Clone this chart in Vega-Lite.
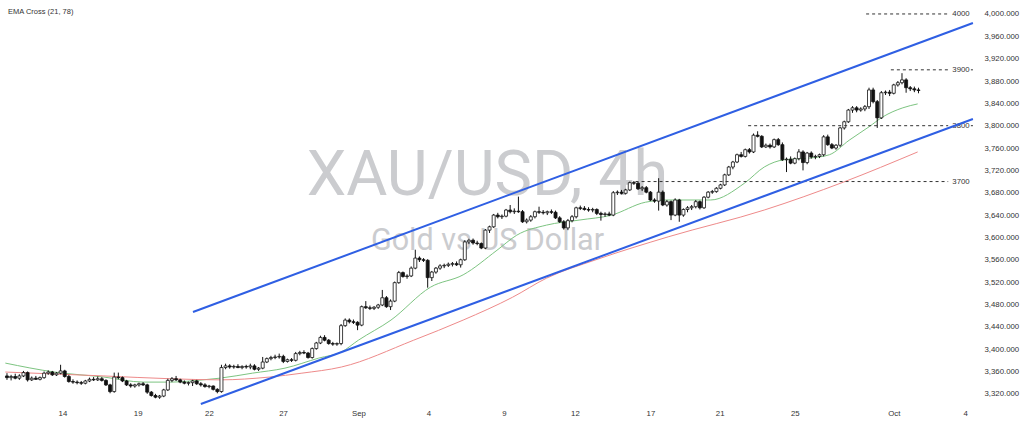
{
  "$schema": "https://vega.github.io/schema/vega-lite/v6.json",
  "width": 980,
  "height": 405,
  "autosize": {"type": "none"},
  "padding": {"left": 0, "top": 0, "right": 44, "bottom": 21},
  "background": "#ffffff",
  "config": {
    "view": {"stroke": null},
    "axis": {"grid": false, "domain": false, "ticks": false, "labelFont": "Liberation Sans", "labelFontSize": 7.8, "labelColor": "#333333", "title": null}
  },
  "datasets": {
    "candles": [
      {"i":0,"o":3352,"h":3357,"l":3345,"c":3349},{"i":1,"o":3349,"h":3354,"l":3344,"c":3351},{"i":2,"o":3351,"h":3356,"l":3346,"c":3348},{"i":3,"o":3348,"h":3355,"l":3345,"c":3352},{"i":4,"o":3352,"h":3361,"l":3350,"c":3358},{"i":5,"o":3358,"h":3360,"l":3342,"c":3345},{"i":6,"o":3345,"h":3351,"l":3343,"c":3348},{"i":7,"o":3348,"h":3352,"l":3345,"c":3346},{"i":8,"o":3346,"h":3351,"l":3344,"c":3349},{"i":9,"o":3349,"h":3360,"l":3347,"c":3357},
      {"i":10,"o":3357,"h":3362,"l":3354,"c":3359},{"i":11,"o":3359,"h":3361,"l":3352,"c":3354},{"i":12,"o":3354,"h":3359,"l":3352,"c":3357},{"i":13,"o":3357,"h":3372,"l":3355,"c":3361},{"i":14,"o":3361,"h":3363,"l":3349,"c":3351},{"i":15,"o":3351,"h":3354,"l":3340,"c":3342},{"i":16,"o":3342,"h":3346,"l":3338,"c":3341},{"i":17,"o":3341,"h":3344,"l":3337,"c":3340},{"i":18,"o":3340,"h":3343,"l":3336,"c":3339},{"i":19,"o":3339,"h":3345,"l":3337,"c":3343},
      {"i":20,"o":3343,"h":3349,"l":3341,"c":3346},{"i":21,"o":3346,"h":3350,"l":3343,"c":3345},{"i":22,"o":3345,"h":3351,"l":3343,"c":3347},{"i":23,"o":3347,"h":3350,"l":3342,"c":3344},{"i":24,"o":3344,"h":3346,"l":3334,"c":3336},{"i":25,"o":3336,"h":3338,"l":3321,"c":3324},{"i":26,"o":3324,"h":3358,"l":3322,"c":3350},{"i":27,"o":3350,"h":3358,"l":3346,"c":3349},{"i":28,"o":3349,"h":3351,"l":3341,"c":3343},{"i":29,"o":3343,"h":3345,"l":3334,"c":3336},
      {"i":30,"o":3336,"h":3339,"l":3331,"c":3334},{"i":31,"o":3334,"h":3338,"l":3331,"c":3336},{"i":32,"o":3336,"h":3340,"l":3333,"c":3338},{"i":33,"o":3338,"h":3341,"l":3334,"c":3336},{"i":34,"o":3336,"h":3338,"l":3320,"c":3323},{"i":35,"o":3323,"h":3325,"l":3315,"c":3317},{"i":36,"o":3317,"h":3320,"l":3312,"c":3314},{"i":37,"o":3314,"h":3318,"l":3311,"c":3316},{"i":38,"o":3316,"h":3329,"l":3314,"c":3327},{"i":39,"o":3327,"h":3347,"l":3325,"c":3344},
      {"i":40,"o":3344,"h":3350,"l":3341,"c":3347},{"i":41,"o":3347,"h":3352,"l":3343,"c":3345},{"i":42,"o":3345,"h":3347,"l":3339,"c":3341},{"i":43,"o":3341,"h":3344,"l":3337,"c":3339},{"i":44,"o":3339,"h":3342,"l":3335,"c":3340},{"i":45,"o":3340,"h":3345,"l":3334,"c":3343},{"i":46,"o":3343,"h":3345,"l":3336,"c":3338},{"i":47,"o":3338,"h":3341,"l":3333,"c":3336},{"i":48,"o":3336,"h":3339,"l":3331,"c":3333},{"i":49,"o":3333,"h":3336,"l":3330,"c":3334},
      {"i":50,"o":3334,"h":3335,"l":3326,"c":3328},{"i":51,"o":3328,"h":3330,"l":3321,"c":3324},{"i":52,"o":3324,"h":3372,"l":3322,"c":3367},{"i":53,"o":3367,"h":3374,"l":3364,"c":3370},{"i":54,"o":3370,"h":3373,"l":3365,"c":3368},{"i":55,"o":3368,"h":3372,"l":3365,"c":3369},{"i":56,"o":3369,"h":3373,"l":3366,"c":3367},{"i":57,"o":3367,"h":3371,"l":3364,"c":3369},{"i":58,"o":3369,"h":3372,"l":3365,"c":3368},{"i":59,"o":3368,"h":3374,"l":3364,"c":3370},
      {"i":60,"o":3370,"h":3373,"l":3362,"c":3364},{"i":61,"o":3364,"h":3368,"l":3361,"c":3366},{"i":62,"o":3366,"h":3386,"l":3364,"c":3377},{"i":63,"o":3377,"h":3385,"l":3375,"c":3383},{"i":64,"o":3383,"h":3388,"l":3380,"c":3385},{"i":65,"o":3385,"h":3390,"l":3382,"c":3386},{"i":66,"o":3386,"h":3392,"l":3383,"c":3387},{"i":67,"o":3387,"h":3390,"l":3375,"c":3378},{"i":68,"o":3378,"h":3383,"l":3376,"c":3381},{"i":69,"o":3381,"h":3384,"l":3377,"c":3380},
      {"i":70,"o":3380,"h":3395,"l":3378,"c":3392},{"i":71,"o":3392,"h":3397,"l":3389,"c":3394},{"i":72,"o":3394,"h":3398,"l":3391,"c":3393},{"i":73,"o":3393,"h":3395,"l":3383,"c":3385},{"i":74,"o":3385,"h":3403,"l":3383,"c":3401},{"i":75,"o":3401,"h":3413,"l":3399,"c":3411},{"i":76,"o":3411,"h":3424,"l":3409,"c":3421},{"i":77,"o":3421,"h":3425,"l":3414,"c":3416},{"i":78,"o":3416,"h":3418,"l":3408,"c":3410},{"i":79,"o":3410,"h":3413,"l":3406,"c":3409},
      {"i":80,"o":3409,"h":3412,"l":3406,"c":3410},{"i":81,"o":3410,"h":3445,"l":3407,"c":3442},{"i":82,"o":3442,"h":3455,"l":3440,"c":3452},{"i":83,"o":3452,"h":3455,"l":3446,"c":3449},{"i":84,"o":3449,"h":3453,"l":3445,"c":3448},{"i":85,"o":3448,"h":3450,"l":3434,"c":3443},{"i":86,"o":3443,"h":3478,"l":3441,"c":3476},{"i":87,"o":3476,"h":3486,"l":3472,"c":3474},{"i":88,"o":3474,"h":3478,"l":3470,"c":3473},{"i":89,"o":3473,"h":3477,"l":3470,"c":3475},
      {"i":90,"o":3475,"h":3481,"l":3472,"c":3479},{"i":91,"o":3479,"h":3506,"l":3477,"c":3492},{"i":92,"o":3492,"h":3495,"l":3474,"c":3476},{"i":93,"o":3476,"h":3489,"l":3470,"c":3486},{"i":94,"o":3486,"h":3521,"l":3484,"c":3519},{"i":95,"o":3519,"h":3540,"l":3517,"c":3537},{"i":96,"o":3537,"h":3539,"l":3528,"c":3530},{"i":97,"o":3530,"h":3534,"l":3526,"c":3531},{"i":98,"o":3531,"h":3548,"l":3529,"c":3545},{"i":99,"o":3545,"h":3578,"l":3543,"c":3563},
      {"i":100,"o":3563,"h":3566,"l":3556,"c":3560},{"i":101,"o":3560,"h":3563,"l":3556,"c":3559},{"i":102,"o":3559,"h":3561,"l":3510,"c":3528},{"i":103,"o":3528,"h":3540,"l":3522,"c":3538},{"i":104,"o":3538,"h":3547,"l":3535,"c":3545},{"i":105,"o":3545,"h":3552,"l":3542,"c":3549},{"i":106,"o":3549,"h":3553,"l":3545,"c":3550},{"i":107,"o":3550,"h":3555,"l":3547,"c":3552},{"i":108,"o":3552,"h":3556,"l":3548,"c":3553},{"i":109,"o":3553,"h":3557,"l":3549,"c":3551},
      {"i":110,"o":3551,"h":3562,"l":3546,"c":3560},{"i":111,"o":3560,"h":3595,"l":3558,"c":3592},{"i":112,"o":3592,"h":3598,"l":3588,"c":3595},{"i":113,"o":3595,"h":3598,"l":3587,"c":3590},{"i":114,"o":3590,"h":3594,"l":3586,"c":3589},{"i":115,"o":3589,"h":3591,"l":3579,"c":3581},{"i":116,"o":3581,"h":3615,"l":3579,"c":3613},{"i":117,"o":3613,"h":3621,"l":3608,"c":3619},{"i":118,"o":3619,"h":3642,"l":3617,"c":3640},{"i":119,"o":3640,"h":3644,"l":3634,"c":3637},
      {"i":120,"o":3637,"h":3641,"l":3633,"c":3638},{"i":121,"o":3638,"h":3651,"l":3636,"c":3649},{"i":122,"o":3649,"h":3658,"l":3643,"c":3646},{"i":123,"o":3646,"h":3652,"l":3642,"c":3647},{"i":124,"o":3647,"h":3673,"l":3644,"c":3646},{"i":125,"o":3646,"h":3649,"l":3626,"c":3628},{"i":126,"o":3628,"h":3634,"l":3625,"c":3631},{"i":127,"o":3631,"h":3640,"l":3628,"c":3637},{"i":128,"o":3637,"h":3648,"l":3634,"c":3646},{"i":129,"o":3646,"h":3655,"l":3642,"c":3645},
      {"i":130,"o":3645,"h":3649,"l":3641,"c":3644},{"i":131,"o":3644,"h":3648,"l":3640,"c":3646},{"i":132,"o":3646,"h":3650,"l":3642,"c":3645},{"i":133,"o":3645,"h":3648,"l":3633,"c":3635},{"i":134,"o":3635,"h":3638,"l":3626,"c":3628},{"i":135,"o":3628,"h":3631,"l":3614,"c":3617},{"i":136,"o":3617,"h":3633,"l":3613,"c":3630},{"i":137,"o":3630,"h":3640,"l":3627,"c":3637},{"i":138,"o":3637,"h":3655,"l":3634,"c":3653},{"i":139,"o":3653,"h":3657,"l":3649,"c":3652},
      {"i":140,"o":3652,"h":3656,"l":3648,"c":3650},{"i":141,"o":3650,"h":3654,"l":3646,"c":3649},{"i":142,"o":3649,"h":3653,"l":3645,"c":3650},{"i":143,"o":3650,"h":3652,"l":3640,"c":3643},{"i":144,"o":3643,"h":3646,"l":3630,"c":3641},{"i":145,"o":3641,"h":3645,"l":3637,"c":3642},{"i":146,"o":3642,"h":3646,"l":3638,"c":3640},{"i":147,"o":3640,"h":3683,"l":3638,"c":3680},{"i":148,"o":3680,"h":3684,"l":3676,"c":3681},{"i":149,"o":3681,"h":3685,"l":3677,"c":3679},
      {"i":150,"o":3679,"h":3687,"l":3677,"c":3685},{"i":151,"o":3685,"h":3700,"l":3683,"c":3698},{"i":152,"o":3698,"h":3701,"l":3694,"c":3697},{"i":153,"o":3697,"h":3699,"l":3685,"c":3687},{"i":154,"o":3687,"h":3692,"l":3683,"c":3689},{"i":155,"o":3689,"h":3692,"l":3679,"c":3681},{"i":156,"o":3681,"h":3683,"l":3665,"c":3667},{"i":157,"o":3667,"h":3670,"l":3662,"c":3665},{"i":158,"o":3665,"h":3706,"l":3648,"c":3681},{"i":159,"o":3681,"h":3684,"l":3656,"c":3658},
      {"i":160,"o":3658,"h":3667,"l":3655,"c":3664},{"i":161,"o":3664,"h":3666,"l":3631,"c":3640},{"i":162,"o":3640,"h":3670,"l":3638,"c":3667},{"i":163,"o":3667,"h":3669,"l":3628,"c":3640},{"i":164,"o":3640,"h":3652,"l":3637,"c":3650},{"i":165,"o":3650,"h":3656,"l":3645,"c":3653},{"i":166,"o":3653,"h":3658,"l":3649,"c":3655},{"i":167,"o":3655,"h":3667,"l":3652,"c":3664},{"i":168,"o":3664,"h":3666,"l":3650,"c":3653},{"i":169,"o":3653,"h":3674,"l":3651,"c":3672},
      {"i":170,"o":3672,"h":3683,"l":3670,"c":3681},{"i":171,"o":3681,"h":3685,"l":3678,"c":3682},{"i":172,"o":3682,"h":3690,"l":3680,"c":3688},{"i":173,"o":3688,"h":3696,"l":3686,"c":3694},{"i":174,"o":3694,"h":3714,"l":3692,"c":3712},{"i":175,"o":3712,"h":3728,"l":3710,"c":3726},{"i":176,"o":3726,"h":3737,"l":3722,"c":3735},{"i":177,"o":3735,"h":3750,"l":3733,"c":3748},{"i":178,"o":3748,"h":3753,"l":3743,"c":3745},{"i":179,"o":3745,"h":3759,"l":3743,"c":3757},
      {"i":180,"o":3757,"h":3760,"l":3750,"c":3753},{"i":181,"o":3753,"h":3786,"l":3751,"c":3783},{"i":182,"o":3783,"h":3790,"l":3779,"c":3781},{"i":183,"o":3781,"h":3783,"l":3760,"c":3762},{"i":184,"o":3762,"h":3768,"l":3760,"c":3765},{"i":185,"o":3765,"h":3768,"l":3759,"c":3762},{"i":186,"o":3762,"h":3777,"l":3760,"c":3775},{"i":187,"o":3775,"h":3778,"l":3764,"c":3766},{"i":188,"o":3766,"h":3770,"l":3737,"c":3739},{"i":189,"o":3739,"h":3743,"l":3717,"c":3740},
      {"i":190,"o":3740,"h":3745,"l":3731,"c":3733},{"i":191,"o":3733,"h":3743,"l":3731,"c":3741},{"i":192,"o":3741,"h":3758,"l":3738,"c":3753},{"i":193,"o":3753,"h":3756,"l":3720,"c":3734},{"i":194,"o":3734,"h":3753,"l":3731,"c":3751},{"i":195,"o":3751,"h":3754,"l":3741,"c":3744},{"i":196,"o":3744,"h":3748,"l":3740,"c":3745},{"i":197,"o":3745,"h":3750,"l":3742,"c":3748},{"i":198,"o":3748,"h":3783,"l":3745,"c":3780},{"i":199,"o":3780,"h":3784,"l":3764,"c":3766},
      {"i":200,"o":3766,"h":3769,"l":3758,"c":3760},{"i":201,"o":3760,"h":3767,"l":3757,"c":3765},{"i":202,"o":3765,"h":3798,"l":3762,"c":3796},{"i":203,"o":3796,"h":3809,"l":3793,"c":3807},{"i":204,"o":3807,"h":3830,"l":3805,"c":3828},{"i":205,"o":3828,"h":3835,"l":3823,"c":3832},{"i":206,"o":3832,"h":3835,"l":3824,"c":3828},{"i":207,"o":3828,"h":3833,"l":3825,"c":3830},{"i":208,"o":3830,"h":3837,"l":3826,"c":3834},{"i":209,"o":3834,"h":3868,"l":3830,"c":3864},
      {"i":210,"o":3864,"h":3868,"l":3840,"c":3843},{"i":211,"o":3843,"h":3846,"l":3796,"c":3814},{"i":212,"o":3814,"h":3862,"l":3812,"c":3859},{"i":213,"o":3859,"h":3863,"l":3855,"c":3860},{"i":214,"o":3860,"h":3864,"l":3853,"c":3858},{"i":215,"o":3858,"h":3875,"l":3856,"c":3873},{"i":216,"o":3873,"h":3880,"l":3870,"c":3877},{"i":217,"o":3877,"h":3894,"l":3874,"c":3882},{"i":218,"o":3882,"h":3885,"l":3859,"c":3868},{"i":219,"o":3868,"h":3871,"l":3862,"c":3866},
      {"i":220,"o":3866,"h":3870,"l":3860,"c":3864},{"i":221,"o":3864,"h":3868,"l":3858,"c":3863}
    ],
    "ema": [
      {"s":"EMA 21","i":-0.4,"p":3375},{"s":"EMA 21","i":11.5,"p":3359},{"s":"EMA 21","i":23.5,"p":3350},{"s":"EMA 21","i":33.1,"p":3341},{"s":"EMA 21","i":39.6,"p":3341},{"s":"EMA 21","i":47.5,"p":3345},{"s":"EMA 21","i":51.6,"p":3348},{"s":"EMA 21","i":59.5,"p":3357},{"s":"EMA 21","i":67.4,"p":3366},{"s":"EMA 21","i":75.6,"p":3384},{"s":"EMA 21","i":81.1,"p":3395},{"s":"EMA 21","i":85.2,"p":3416},{"s":"EMA 21","i":93.1,"p":3452},{"s":"EMA 21","i":102.7,"p":3511},{"s":"EMA 21","i":110.6,"p":3533},{"s":"EMA 21","i":118.8,"p":3577},{"s":"EMA 21","i":123.6,"p":3604},{"s":"EMA 21","i":130.8,"p":3622},{"s":"EMA 21","i":138.7,"p":3631},{"s":"EMA 21","i":146.6,"p":3640},{"s":"EMA 21","i":154.8,"p":3663},{"s":"EMA 21","i":160.3,"p":3667},{"s":"EMA 21","i":170.6,"p":3667},{"s":"EMA 21","i":178.8,"p":3697},{"s":"EMA 21","i":183.6,"p":3726},{"s":"EMA 21","i":188.4,"p":3739},{"s":"EMA 21","i":194.6,"p":3742},{"s":"EMA 21","i":199.4,"p":3748},{"s":"EMA 21","i":204.2,"p":3774},{"s":"EMA 21","i":209.0,"p":3798},{"s":"EMA 21","i":212.4,"p":3816},{"s":"EMA 21","i":217.2,"p":3832},{"s":"EMA 21","i":220.8,"p":3839},
      {"s":"EMA 78","i":-0.4,"p":3359},{"s":"EMA 78","i":23.5,"p":3352},{"s":"EMA 78","i":39.6,"p":3347},{"s":"EMA 78","i":51.6,"p":3345},{"s":"EMA 78","i":63.6,"p":3350},{"s":"EMA 78","i":71.5,"p":3357},{"s":"EMA 78","i":81.1,"p":3368},{"s":"EMA 78","i":98.6,"p":3416},{"s":"EMA 78","i":110.6,"p":3452},{"s":"EMA 78","i":122.6,"p":3493},{"s":"EMA 78","i":130.8,"p":3527},{"s":"EMA 78","i":142.8,"p":3560},{"s":"EMA 78","i":160.3,"p":3601},{"s":"EMA 78","i":183.6,"p":3649},{"s":"EMA 78","i":202.8,"p":3699},{"s":"EMA 78","i":220.8,"p":3753}
    ],
    "channel": [
      {"line":"upper","i":45.1,"p":3466.5},{"line":"upper","i":234.2,"p":3983.8},
      {"line":"lower","i":47.0,"p":3301.8},{"line":"lower","i":234.2,"p":3812.0}
    ],
    "levels": [
      {"p":4000,"a":208.3,"b":228.2},{"p":3900,"a":214.3,"b":228.2},{"p":3800,"a":179.7,"b":228.2},{"p":3700,"a":152.4,"b":228.2},
      {"p":3900,"a":233.7,"b":234.2},{"p":3800,"a":233.7,"b":234.2}
    ],
    "levelLabels": [
      {"t":"4000","i":229.2,"p":4000},{"t":"3900","i":229.2,"p":3900},{"t":"3800","i":229.2,"p":3800},{"t":"3700","i":229.2,"p":3700}
    ],
    "wm1": [{"t":"XAU/USD, 4h","i":116.5,"p":3675.9}],
    "wm2": [{"t":"Gold vs US Dollar","i":116.5,"p":3577.5}],
    "hdr": [{"t":"EMA Cross (21, 78)","i":0.24,"p":4003.5}]
  },
  "encoding": {
    "x": {
      "field": "i", "type": "quantitative",
      "scale": {"domain": [-0.48, 234.7], "nice": false, "zero": false},
      "axis": {
        "values": [13.44, 31.68, 48.96, 66.95, 85.2, 102.2, 120.5, 137.7, 156.0, 172.8, 191.0, 215.0, 232.3],
        "labelExpr": "datum.value < 20 ? '14' : datum.value < 40 ? '19' : datum.value < 58 ? '22' : datum.value < 76 ? '27' : datum.value < 94 ? 'Sep' : datum.value < 111 ? '4' : datum.value < 129 ? '9' : datum.value < 147 ? '12' : datum.value < 164 ? '17' : datum.value < 182 ? '21' : datum.value < 203 ? '25' : datum.value < 224 ? 'Oct' : '4'",
        "labelPadding": 4, "labelFlush": false, "labelOverlap": false, "title": null
      }
    }
  },
  "layer": [
    {
      "data": {"name": "wm1"},
      "mark": {"type": "text", "font": "Roboto", "fontSize": 63, "color": "#cbcccf", "align": "center", "baseline": "alphabetic"},
      "encoding": {
        "y": {"field": "p", "type": "quantitative", "scale": {"domain": [3300, 4025], "nice": false, "zero": false}, "axis": {"orient": "right", "values": [3320,3360,3400,3440,3480,3520,3560,3600,3640,3680,3720,3760,3800,3840,3880,3920,3960,4000], "format": ",.3f", "labelPadding": 4, "title": null}},
        "text": {"field": "t"}
      }
    },
    {
      "data": {"name": "wm2"},
      "mark": {"type": "text", "font": "Roboto", "fontSize": 30.5, "color": "#cbcccf", "align": "center", "baseline": "alphabetic"},
      "encoding": {
        "y": {"field": "p", "type": "quantitative", "scale": {"domain": [3300, 4025], "nice": false, "zero": false}, "axis": {"orient": "right", "values": [3320,3360,3400,3440,3480,3520,3560,3600,3640,3680,3720,3760,3800,3840,3880,3920,3960,4000], "format": ",.3f", "labelPadding": 4, "title": null}},
        "text": {"field": "t"}
      }
    },
    {
      "data": {"name": "ema"},
      "mark": {"type": "line", "strokeWidth": 1, "clip": true, "interpolate": "monotone"},
      "encoding": {
        "y": {"field": "p", "type": "quantitative", "scale": {"domain": [3300, 4025], "nice": false, "zero": false}, "axis": {"orient": "right", "values": [3320,3360,3400,3440,3480,3520,3560,3600,3640,3680,3720,3760,3800,3840,3880,3920,3960,4000], "format": ",.3f", "labelPadding": 4, "title": null}},
        "color": {"field": "s", "type": "nominal", "scale": {"domain": ["EMA 21", "EMA 78"], "range": ["#7dc481", "#ee8a8a"]}, "legend": null}
      }
    },
    {
      "data": {"name": "candles"},
      "mark": {"type": "rule", "color": "#111111", "strokeWidth": 1},
      "encoding": {
        "y": {"field": "l", "type": "quantitative", "scale": {"domain": [3300, 4025], "nice": false, "zero": false}, "axis": {"orient": "right", "values": [3320,3360,3400,3440,3480,3520,3560,3600,3640,3680,3720,3760,3800,3840,3880,3920,3960,4000], "format": ",.3f", "labelPadding": 4, "title": null}},
        "y2": {"field": "h"}
      }
    },
    {
      "data": {"name": "candles"},
      "mark": {"type": "bar", "width": 3, "stroke": "#111111", "strokeWidth": 0.8},
      "encoding": {
        "y": {"field": "o", "type": "quantitative", "scale": {"domain": [3300, 4025], "nice": false, "zero": false}, "axis": {"orient": "right", "values": [3320,3360,3400,3440,3480,3520,3560,3600,3640,3680,3720,3760,3800,3840,3880,3920,3960,4000], "format": ",.3f", "labelPadding": 4, "title": null}},
        "y2": {"field": "c"},
        "fill": {"condition": {"test": "datum.c >= datum.o", "value": "#ffffff"}, "value": "#111111"}
      }
    },
    {
      "data": {"name": "levels"},
      "mark": {"type": "rule", "color": "#333333", "strokeWidth": 1, "strokeDash": [3, 3]},
      "encoding": {
        "x": {"field": "a", "type": "quantitative"},
        "x2": {"field": "b"},
        "y": {"field": "p", "type": "quantitative", "scale": {"domain": [3300, 4025], "nice": false, "zero": false}, "axis": {"orient": "right", "values": [3320,3360,3400,3440,3480,3520,3560,3600,3640,3680,3720,3760,3800,3840,3880,3920,3960,4000], "format": ",.3f", "labelPadding": 4, "title": null}}
      }
    },
    {
      "data": {"name": "levelLabels"},
      "mark": {"type": "text", "font": "Liberation Sans", "fontSize": 7.8, "color": "#333333", "align": "left", "baseline": "middle"},
      "encoding": {
        "y": {"field": "p", "type": "quantitative", "scale": {"domain": [3300, 4025], "nice": false, "zero": false}, "axis": {"orient": "right", "values": [3320,3360,3400,3440,3480,3520,3560,3600,3640,3680,3720,3760,3800,3840,3880,3920,3960,4000], "format": ",.3f", "labelPadding": 4, "title": null}},
        "text": {"field": "t"}
      }
    },
    {
      "data": {"name": "channel"},
      "mark": {"type": "line", "color": "#2f5fe3", "strokeWidth": 2},
      "encoding": {
        "y": {"field": "p", "type": "quantitative", "scale": {"domain": [3300, 4025], "nice": false, "zero": false}, "axis": {"orient": "right", "values": [3320,3360,3400,3440,3480,3520,3560,3600,3640,3680,3720,3760,3800,3840,3880,3920,3960,4000], "format": ",.3f", "labelPadding": 4, "title": null}},
        "detail": {"field": "line", "type": "nominal"}
      }
    },
    {
      "data": {"name": "hdr"},
      "mark": {"type": "text", "font": "Liberation Sans", "fontSize": 7.5, "color": "#333333", "align": "left", "baseline": "middle"},
      "encoding": {
        "y": {"field": "p", "type": "quantitative", "scale": {"domain": [3300, 4025], "nice": false, "zero": false}, "axis": {"orient": "right", "values": [3320,3360,3400,3440,3480,3520,3560,3600,3640,3680,3720,3760,3800,3840,3880,3920,3960,4000], "format": ",.3f", "labelPadding": 4, "title": null}},
        "text": {"field": "t"}
      }
    }
  ]
}
